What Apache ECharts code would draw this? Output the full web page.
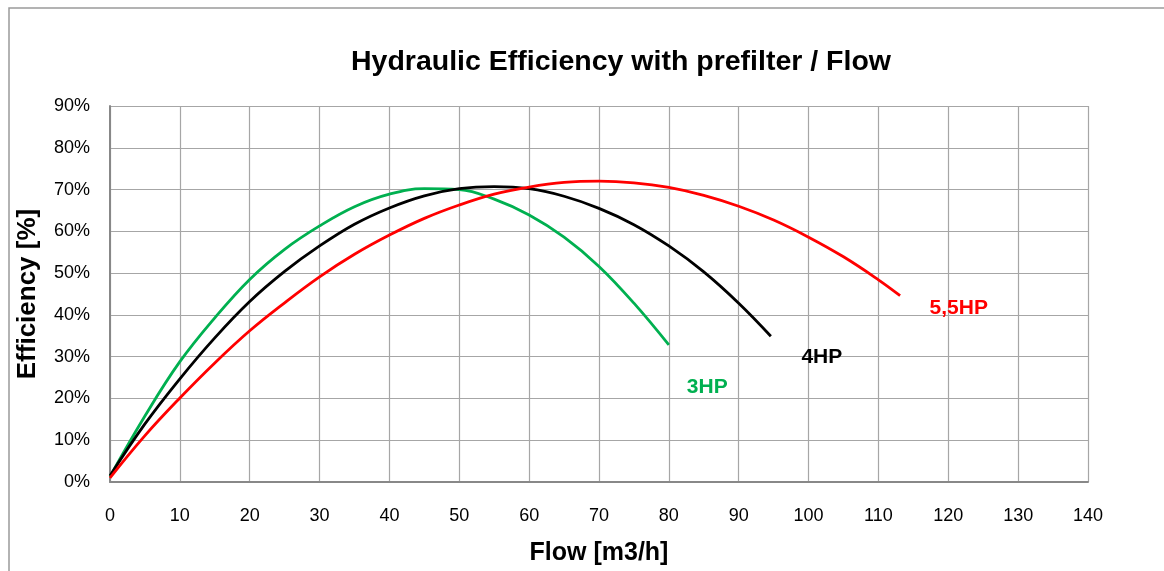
<!DOCTYPE html>
<html>
<head>
<meta charset="utf-8">
<title>Hydraulic Efficiency with prefilter / Flow</title>
<script src="https://cdn.jsdelivr.net/npm/echarts@6/dist/echarts.min.js"></script>
<style>
  html, body { margin: 0; padding: 0; background: #ffffff; }
  #chart { width: 1164px; height: 571px; }
</style>
</head>
<body>
<div id="chart"></div>
<script>
// Pump curves: efficiency [%] against flow [m3/h]
const flow3HP = [0, 5, 10, 15, 20, 25, 30, 35, 40, 45, 50, 55, 60, 65, 70, 75, 80];
const eff3HP  = [1.3, 15.8, 28.8, 39.3, 48.5, 55.7, 61.3, 65.9, 68.9, 70.2, 70.0, 67.7, 63.9, 58.6, 51.6, 42.8, 32.8];

const flow4HP = [0, 5, 10, 15, 20, 25, 30, 35, 40, 45, 50, 55, 60, 65, 70, 75, 80, 85, 90, 94.6];
const eff4HP  = [1.5, 13.9, 24.7, 34.5, 43.2, 50.4, 56.5, 61.7, 65.6, 68.5, 70.2, 70.7, 70.2, 68.4, 65.5, 61.6, 56.5, 50.3, 42.8, 34.9];

const flow55HP = [0, 5, 10, 15, 20, 25, 30, 35, 40, 45, 50, 55, 60, 65, 70, 75, 80, 85, 90, 95, 100, 105, 110, 113.1];
const eff55HP  = [1.0, 11.1, 20.1, 28.5, 36.2, 42.9, 49.1, 54.5, 59.1, 63.1, 66.3, 68.9, 70.6, 71.7, 72.0, 71.6, 70.5, 68.6, 66.0, 62.7, 58.6, 53.9, 48.4, 44.6];

const seriesNames = ['3HP', '4HP', '5,5HP'];
const xTicks = { min: 0, max: 140, step: 10 };
const yTicks = { min: 0, max: 90, step: 10 };

const pairs = (xs, ys) => xs.map((x, i) => [x, ys[i]]);

const FONT = '"Liberation Sans", Arial, sans-serif';
const GRID_COLOR = '#a6a6a6';
const AXIS_COLOR = '#888888';

function curve(name, xs, ys, color, labelCoord) {
  return {
    name: name,
    type: 'line',
    data: pairs(xs, ys),
    smooth: 0.4,
    showSymbol: false,
    symbol: 'none',
    lineStyle: { color: color, width: 2.8 },
    z: 3,
    markPoint: {
      symbol: 'circle',
      symbolSize: 0,
      silent: true,
      label: {
        show: true,
        formatter: name,
        color: color,
        fontFamily: FONT,
        fontWeight: 'bold',
        fontSize: 21,
        position: 'inside'
      },
      data: [{ coord: labelCoord }]
    }
  };
}

const chart = echarts.init(document.getElementById('chart'), null, { renderer: 'canvas' });

chart.setOption({
  backgroundColor: '#ffffff',
  animation: false,
  title: {
    text: 'Hydraulic Efficiency with prefilter / Flow',
    left: 616,
    top: 43,
    textAlign: 'center',
    textStyle: { fontFamily: FONT, fontWeight: 'bold', fontSize: 28.5, color: '#000000' }
  },
  graphic: [{
    type: 'rect',
    shape: { x: 9, y: 8, width: 1300, height: 700 },
    style: { fill: 'none', stroke: '#9a9a9a', lineWidth: 1.5 },
    silent: true,
    z: -1
  }],
  grid: { left: 110, right: 76, top: 106, bottom: 84, containLabel: false },
  xAxis: {
    type: 'value',
    min: xTicks.min,
    max: xTicks.max,
    interval: xTicks.step,
    name: 'Flow [m3/h]',
    nameLocation: 'middle',
    nameGap: 59,
    nameTextStyle: { fontFamily: FONT, fontWeight: 'bold', fontSize: 25, color: '#000000' },
    axisLine: { show: true, lineStyle: { color: AXIS_COLOR, width: 2 } },
    axisTick: { show: false },
    axisLabel: { margin: 25.5, fontFamily: FONT, fontSize: 18, color: '#000000' },
    splitLine: { show: true, lineStyle: { color: GRID_COLOR, width: 1.2 } }
  },
  yAxis: {
    type: 'value',
    min: yTicks.min,
    max: yTicks.max,
    interval: yTicks.step,
    name: 'Efficiency [%]',
    nameLocation: 'middle',
    nameGap: 69,
    nameTextStyle: { fontFamily: FONT, fontWeight: 'bold', fontSize: 26, color: '#000000' },
    axisLine: { show: true, onZero: false, lineStyle: { color: AXIS_COLOR, width: 2 } },
    axisTick: { show: false },
    axisLabel: { margin: 20, fontFamily: FONT, fontSize: 18, color: '#000000', formatter: '{value}%' },
    splitLine: { show: true, lineStyle: { color: GRID_COLOR, width: 1.2 } }
  },
  series: [
    curve(seriesNames[0], flow3HP, eff3HP, '#00b050', [85.5, 22.7]),
    curve(seriesNames[1], flow4HP, eff4HP, '#000000', [101.9, 29.9]),
    curve(seriesNames[2], flow55HP, eff55HP, '#ff0000', [121.5, 41.6])
  ]
});
</script>
</body>
</html>
